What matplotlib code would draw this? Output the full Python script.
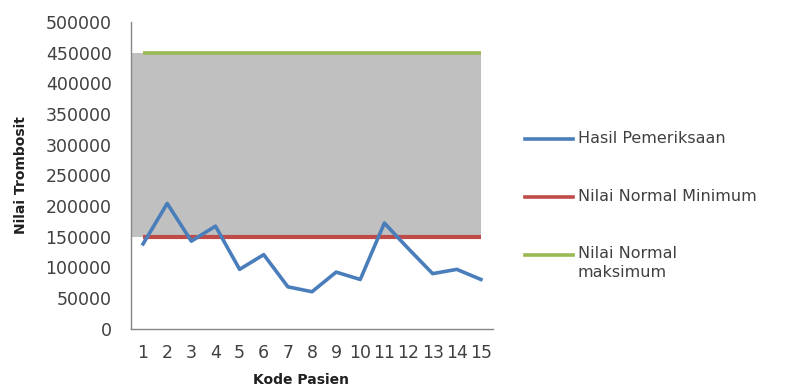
import numpy as np
import matplotlib.pyplot as plt
from matplotlib.lines import Line2D

# platelet counts per patient
pasien = np.arange(1, 16)
trombosit = [138000, 204000, 142500, 167000, 96500, 120500, 68000, 60000,
             92000, 80000, 172000, 130000, 89500, 96500, 80000]
normal_min = 150000
normal_max = 450000

c_blue = '#4a7ebb'
c_red = '#be4b48'
c_green = '#98b954'
c_axis = '#868686'
c_text = '#404040'

fig = plt.figure(figsize=(7.95, 3.89), dpi=100)
ax = fig.add_axes([0.1648, 0.1555, 0.4553, 0.7879])

# normal range band
ax.fill_between([0.5, pasien[-1]], normal_min, normal_max, color='#c0c0c0',
                linewidth=0, zorder=1)

ax.plot(pasien, [normal_min] * len(pasien), color=c_red, lw=3.0,
        solid_capstyle='butt', zorder=3)
ax.plot(pasien, [normal_max] * len(pasien), color=c_green, lw=2.6,
        solid_capstyle='butt', zorder=3)
ax.plot(pasien, trombosit, color=c_blue, lw=2.6, zorder=4)

ax.set_xlim(0.5, 15.5)
ax.set_ylim(0, 500000)
ax.set_xticks(pasien)
ax.set_yticks(np.arange(0, 500001, 50000))
ax.tick_params(length=0, labelsize=12.5, colors=c_text)
ax.tick_params(axis='y', pad=14)
ax.tick_params(axis='x', pad=11)

for s in ['top', 'right']:
    ax.spines[s].set_visible(False)
for s in ['left', 'bottom']:
    ax.spines[s].set_color(c_axis)
    ax.spines[s].set_linewidth(1.0)

ax.set_ylabel('Nilai Trombosit', fontsize=10, fontweight='bold', color='#202020')
ax.yaxis.set_label_coords(-0.285, 0.5)
ax.set_xlabel('Kode Pasien', fontsize=10, fontweight='bold', color='#202020')
ax.xaxis.set_label_coords(0.47, -0.145)

# legend
entries = [
    (c_blue, 'Hasil Pemeriksaan', 0.643),
    (c_red, 'Nilai Normal Minimum', 0.494),
    (c_green, 'Nilai Normal\nmaksimum', 0.345),
]
for col, label, y in entries:
    fig.add_artist(Line2D([0.661, 0.721], [y, y], color=col, lw=2.6,
                          transform=fig.transFigure))
    fig.text(0.727, y, label, fontsize=11.5, color=c_text, va='top' if '\n' in label else 'center',
             linespacing=1.35)

fig.texts[-1].set_y(0.345 + 0.022)

fig.savefig('out.png', dpi=100)
